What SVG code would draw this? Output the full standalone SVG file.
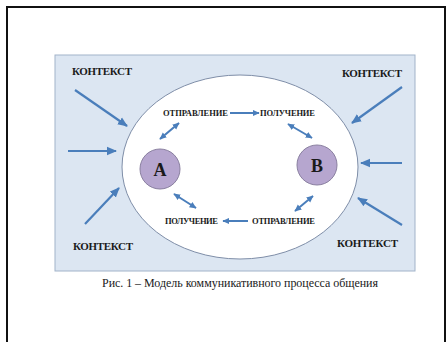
<svg xmlns="http://www.w3.org/2000/svg" width="448" height="342" viewBox="0 0 448 342">
<defs>
<style>
.ctx{font-family:"Liberation Serif","Times New Roman",serif;font-weight:bold;font-size:11px;fill:#1a1a1a}
.lbl{font-family:"Liberation Serif","Times New Roman",serif;font-weight:bold;font-size:8.5px;fill:#1a1a1a}
.big{font-family:"Liberation Serif","Times New Roman",serif;font-weight:bold;font-size:18px;fill:#1a1a1a}
.cap{font-family:"Liberation Serif","Times New Roman",serif;font-size:12px;fill:#1a1a1a}
.arr{stroke:#4a7ebb;stroke-width:2.2;fill:none}
.sarr{stroke:#4a7ebb;stroke-width:2;fill:none}
.node{fill:#b6a6cf;stroke:#8a80a0;stroke-width:1}
</style>
<marker id="ah" markerUnits="userSpaceOnUse" markerWidth="10" markerHeight="10" viewBox="0 0 10 10" refX="9" refY="5" orient="auto">
<path d="M0,0.8 L10,5 L0,9.2 Z" fill="#4a7ebb"/>
</marker>
<marker id="sh" markerUnits="userSpaceOnUse" markerWidth="7" markerHeight="7" viewBox="0 0 10 10" refX="9" refY="5" orient="auto-start-reverse">
<path d="M0,0.5 L10,5 L0,9.5 Z" fill="#4a7ebb"/>
</marker>
</defs>
<rect width="448" height="342" fill="#ffffff"/>
<path d="M7,342 L7,7 L445,7 L445,342" fill="none" stroke="#111" stroke-width="2"/>
<rect id="context-box" x="55" y="55" width="360" height="216" fill="#dce6f2" stroke="#a2b3c9" stroke-width="1"/>
<ellipse id="field" cx="240" cy="167" rx="118" ry="92" fill="#ffffff" stroke="#7f8ea8" stroke-width="1"/>
<g id="context-labels">
<text class="ctx" x="72" y="75" textLength="60">КОНТЕКСТ</text>
<text class="ctx" x="342" y="77" textLength="60">КОНТЕКСТ</text>
<text class="ctx" x="73" y="250" textLength="60">КОНТЕКСТ</text>
<text class="ctx" x="337" y="247" textLength="61">КОНТЕКСТ</text>
</g>
<g id="node-A">
<circle class="node" cx="160" cy="169" r="20"/>
<text class="big" x="160" y="175.5" text-anchor="middle">A</text>
</g>
<g id="node-B">
<circle class="node" cx="317" cy="165" r="20"/>
<text class="big" x="317" y="171.5" text-anchor="middle">B</text>
</g>
<g id="message-labels">
<text class="lbl" x="163" y="116" textLength="65">ОТПРАВЛЕНИЕ</text>
<text class="lbl" x="260" y="116" textLength="55">ПОЛУЧЕНИЕ</text>
<text class="lbl" x="165" y="224" textLength="53">ПОЛУЧЕНИЕ</text>
<text class="lbl" x="252" y="224" textLength="63">ОТПРАВЛЕНИЕ</text>
</g>
<g id="connectors">
<line class="arr" x1="75" y1="90" x2="127" y2="126" marker-end="url(#ah)"/>
<line class="arr" x1="68" y1="151" x2="116" y2="151" marker-end="url(#ah)"/>
<line class="arr" x1="85" y1="224" x2="119" y2="188" marker-end="url(#ah)"/>
<line class="arr" x1="402" y1="87" x2="352" y2="123" marker-end="url(#ah)"/>
<line class="arr" x1="402" y1="163" x2="361" y2="163" marker-end="url(#ah)"/>
<line class="arr" x1="402" y1="225" x2="358" y2="198" marker-end="url(#ah)"/>
<line class="sarr" x1="230" y1="113" x2="259" y2="113" marker-end="url(#sh)"/>
<line class="sarr" x1="248" y1="221" x2="223" y2="221" marker-end="url(#sh)"/>
<line class="sarr" x1="179" y1="123" x2="160" y2="139" marker-start="url(#sh)" marker-end="url(#sh)"/>
<line class="sarr" x1="288" y1="124" x2="312" y2="138" marker-start="url(#sh)" marker-end="url(#sh)"/>
<line class="sarr" x1="174" y1="194" x2="196" y2="208" marker-start="url(#sh)" marker-end="url(#sh)"/>
<line class="sarr" x1="313" y1="196" x2="295" y2="211" marker-start="url(#sh)" marker-end="url(#sh)"/>
</g>
<text id="caption" class="cap" x="102" y="287" textLength="276">Рис. 1 – Модель коммуникативного процесса общения</text>
</svg>
